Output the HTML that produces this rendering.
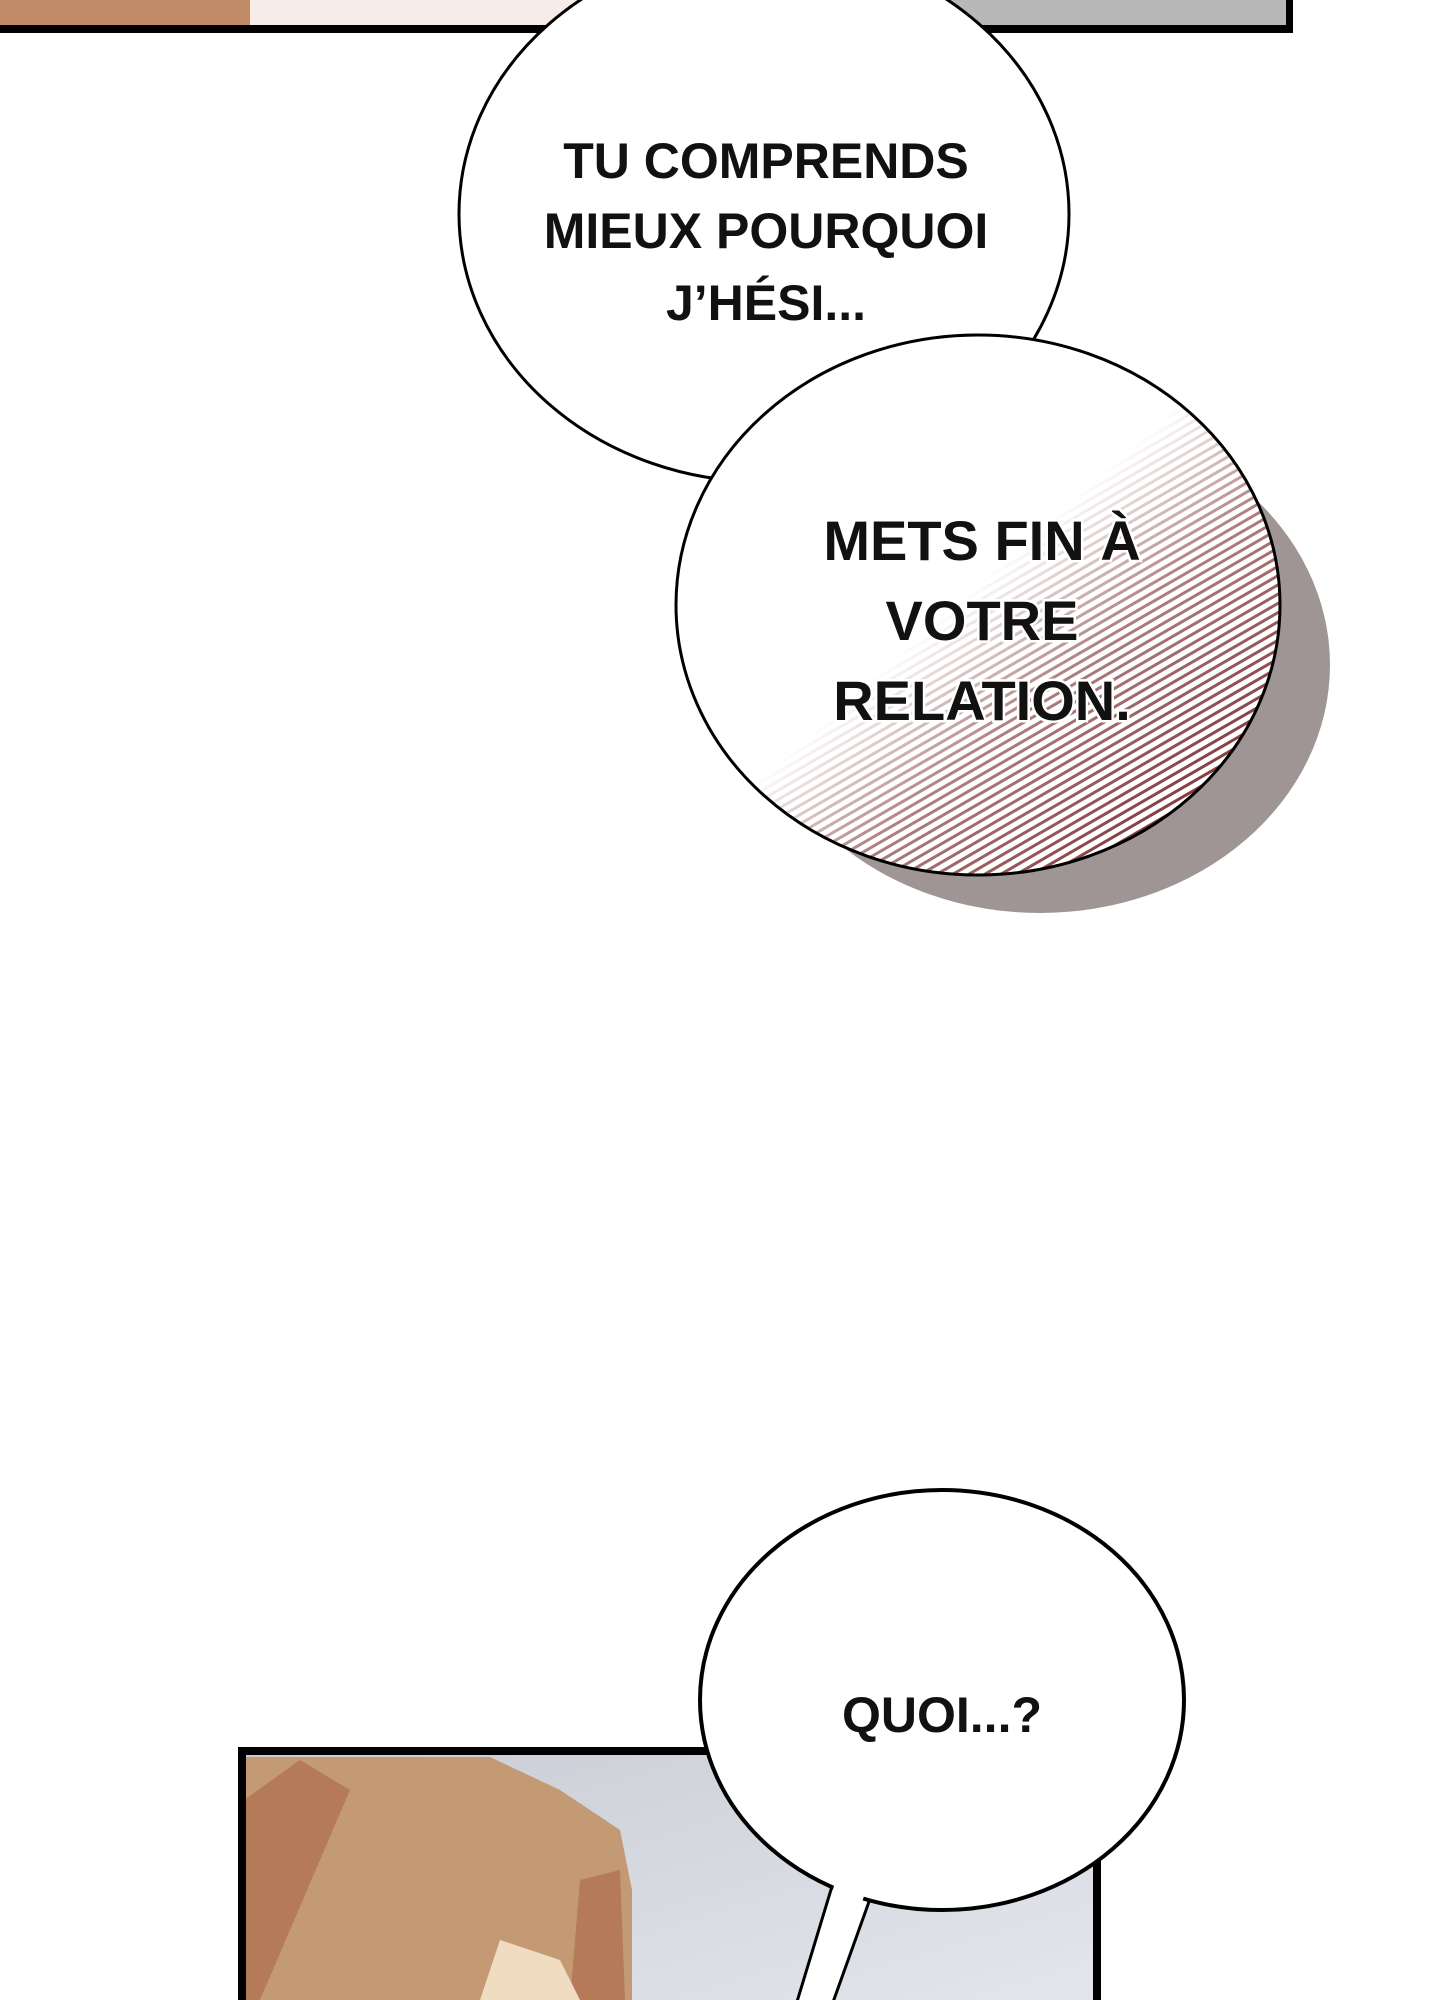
<!DOCTYPE html>
<html><head><meta charset="utf-8"><style>
html,body{margin:0;padding:0;background:#fff;width:1440px;height:2000px;overflow:hidden}
svg{display:block}
text{font-family:"Liberation Sans",sans-serif;font-weight:bold;fill:#111;text-anchor:middle}
</style></head><body>
<svg width="1440" height="2000" viewBox="0 0 1440 2000" xmlns="http://www.w3.org/2000/svg">
<defs>
<pattern id="hatch" width="8" height="8" patternUnits="userSpaceOnUse" patternTransform="rotate(-30)">
<rect width="8" height="8" fill="#fff"/>
<rect width="8" height="3" fill="#7a2e2e"/>
</pattern>
<linearGradient id="fade" x1="0.2" y1="0.2" x2="0.9" y2="0.9">
<stop offset="0.4" stop-color="#fff" stop-opacity="1"/>
<stop offset="0.62" stop-color="#fff" stop-opacity="0.4"/>
<stop offset="1" stop-color="#fff" stop-opacity="0"/>
</linearGradient>
<linearGradient id="bg2" x1="0" y1="0" x2="1" y2="1">
<stop offset="0" stop-color="#c9ccd4"/><stop offset="1" stop-color="#e4e6ec"/>
</linearGradient>
</defs>
<!-- top panel -->
<rect x="0" y="0" width="1290" height="30" fill="#f8ece8"/>
<rect x="0" y="0" width="250" height="30" fill="#c08a66"/>
<rect x="950" y="0" width="340" height="30" fill="#b8b8b8"/>
<rect x="0" y="25" width="1292" height="8" fill="#000"/>
<rect x="1286" y="0" width="7" height="33" fill="#000"/>
<!-- bottom panel -->
<rect x="238" y="1747" width="862" height="260" fill="url(#bg2)"/>
<path d="M244 1757 L490 1757 L560 1790 L620 1830 L632 1890 L632 2000 L244 2000Z" fill="#c49a74"/>
<path d="M244 1800 L300 1760 L350 1790 L260 2000 L244 2000Z" fill="#b57a58"/>
<path d="M580 1880 L620 1870 L625 2000 L570 2000Z" fill="#b57a58"/>
<path d="M500 1940 L560 1960 L580 2000 L480 2000Z" fill="#f0dcc0"/>
<rect x="238" y="1747" width="870" height="8" fill="#000"/>
<rect x="238" y="1747" width="8" height="260" fill="#000"/>
<rect x="1093" y="1747" width="8" height="260" fill="#000"/>
<!-- bubble 1 -->
<ellipse cx="764" cy="214" rx="305" ry="268" fill="#fff" stroke="#000" stroke-width="3"/>
<text font-size="50" x="766" y="178">TU COMPRENDS</text>
<text font-size="50" x="766" y="248">MIEUX POURQUOI</text>
<text font-size="50" x="766" y="320">J’HÉSI...</text>
<!-- bubble 2 shadow -->
<ellipse cx="1040" cy="665" rx="290" ry="248" fill="#a09595"/>
<ellipse cx="978" cy="605" rx="302" ry="270" fill="url(#hatch)"/>
<ellipse cx="978" cy="605" rx="303" ry="271" fill="url(#fade)"/>
<ellipse cx="978" cy="605" rx="302" ry="270" fill="none" stroke="#000" stroke-width="3"/>
<text font-size="56" x="982" y="560" style="stroke:#fff;stroke-width:5;paint-order:stroke">METS FIN À</text>
<text font-size="56" x="982" y="640" style="stroke:#fff;stroke-width:5;paint-order:stroke">VOTRE</text>
<text font-size="56" x="982" y="720" style="stroke:#fff;stroke-width:5;paint-order:stroke">RELATION.</text>
<!-- bubble 3 -->
<path d="M840 1860 L796 2005 L832 2005 L875 1885Z" fill="#fff" stroke="#000" stroke-width="3"/>
<ellipse cx="942" cy="1700" rx="242" ry="210" fill="#fff" stroke="#000" stroke-width="4"/>
<path d="M842 1858 L800 2005 L828 2005 L870 1878Z" fill="#fff"/>
<text font-size="50" x="942" y="1732">QUOI...?</text>
</svg>
</body></html>
